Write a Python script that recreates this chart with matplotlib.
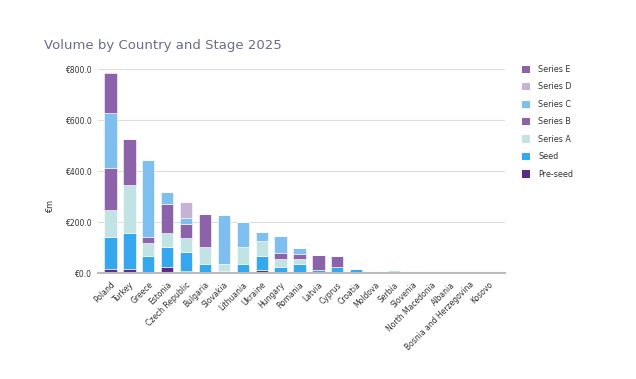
import matplotlib
matplotlib.use("Agg")
import matplotlib.pyplot as plt
import numpy as np
from matplotlib.patches import Patch

countries = ["Poland", "Turkey", "Greece", "Estonia", "Czech Republic", "Bulgaria",
             "Slovakia", "Lithuania", "Ukraine", "Hungary", "Romania", "Latvia",
             "Cyprus", "Croatia", "Moldova", "Serbia", "Slovenia", "North Macedonia",
             "Albania", "Bosnia and Herzegovina", "Kosovo"]

pre_seed = [17, 18, 5, 26, 9, 3, 1, 2, 14, 2, 6, 3, 2, 2, 0, 2, 1, 0, 0, 0, 0]
seed     = [127, 139, 63, 76, 73, 32, 8, 33, 54, 23, 29, 11, 22, 16, 9, 0, 8, 0, 0, 0, 0]
series_a = [104, 188, 52, 56, 55, 67, 27, 68, 59, 31, 20, 0, 0, 0, 1, 10, 0, 5, 0, 0, 0]
series_b = [164, 180, 24, 114, 55, 129, 0, 0, 0, 22, 21, 57, 44, 0, 0, 0, 0, 0, 0, 0, 0]
series_c = [215, 0, 300, 46, 24, 0, 192, 97, 35, 69, 23, 0, 0, 0, 0, 0, 0, 0, 0, 0, 0]
series_d = [0, 0, 0, 0, 65, 0, 0, 0, 0, 0, 0, 0, 0, 0, 0, 0, 0, 0, 0, 0, 0]
series_e = [157, 0, 0, 0, 0, 0, 0, 0, 0, 0, 0, 0, 0, 0, 0, 0, 0, 0, 0, 0, 0]

series_names = ["Pre-seed", "Seed", "Series A", "Series B", "Series C", "Series D", "Series E"]
series_vals = [pre_seed, seed, series_a, series_b, series_c, series_d, series_e]
colors = ["#5b2a86", "#35a7ef", "#c2e3e3", "#8c62aa", "#7fbff0", "#c5b3d6", "#8c62aa"]

yticks = [0, 200, 400, 600, 800]
ytick_labels = ["€0.0", "€200.0", "€400.0", "€600.0", "€800.0"]

fig = plt.figure(figsize=(6.36, 3.79), dpi=100)
ax = fig.add_axes([98/636, 1 - 273.3/379, (505-98)/636, (273.3-69.3)/379])

x = np.arange(len(countries))
bottom = np.zeros(len(countries))
for name, vals, c in zip(series_names, series_vals, colors):
    v = np.array(vals, dtype=float)
    ax.bar(x, v, bottom=bottom, width=0.65, color=c, edgecolor="white", linewidth=0.4, zorder=3)
    bottom += v

ax.set_xlim(-0.66, 20.87)
ax.set_ylim(0, 800)
ax.set_yticks(yticks)
ax.set_yticklabels(ytick_labels, fontsize=5.5, color="#333333")
ax.set_xticks(x)
ax.set_xticklabels(countries, rotation=45, ha="right", rotation_mode="anchor",
                   fontsize=5.5, color="#333333")
ax.tick_params(axis="y", length=0, pad=4)
ax.tick_params(axis="x", length=0, pad=5)
ax.grid(axis="y", color="#dddddd", linewidth=0.8, zorder=0)
for s in ["top", "right", "left"]:
    ax.spines[s].set_visible(False)
ax.spines["bottom"].set_color("#bbbbbb")
ax.spines["bottom"].set_linewidth(1.5)
ax.spines["bottom"].set_zorder(4)

fig.text(51/636, 1 - 206/379, "€m", rotation=90, fontsize=5.8, color="#333333",
         ha="center", va="center")
fig.text(44/636, 1 - 45/379, "Volume by Country and Stage 2025", fontsize=9.5,
         color="#6b6b8c", ha="left", va="center")

handles = [Patch(facecolor=c, edgecolor="none") for c in colors][::-1]
labels = series_names[::-1]
leg = fig.legend(handles, labels, loc="upper left", bbox_to_anchor=(522/636, 1 - 65/379),
                 frameon=False, fontsize=5.8, handlelength=1.0, handleheight=1.0,
                 labelspacing=1.05, handletextpad=1.0, borderpad=0, borderaxespad=0)
for t in leg.get_texts():
    t.set_color("#333333")

fig.savefig("out.png", dpi=100)
